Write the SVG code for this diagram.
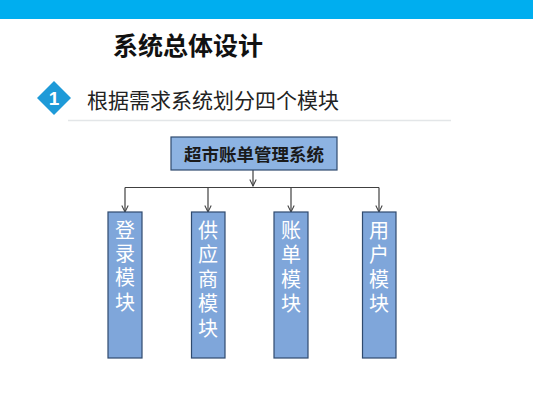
<svg xmlns="http://www.w3.org/2000/svg" width="533" height="400" viewBox="0 0 533 400">
<defs>
<marker id="arr" viewBox="0 0 10 10" refX="9" refY="5" markerWidth="8" markerHeight="8" markerUnits="userSpaceOnUse" orient="auto">
<path d="M1,1 L9,5 L1,9" fill="none" stroke="#404040" stroke-width="1.3"/>
</marker>
</defs>
<style>
.cn{font-family:"Noto Sans CJK SC","Noto Sans",sans-serif;}
.box{fill:#8DB3E2;stroke:#2F4A6E;stroke-width:1.2;}
.mod{fill:#7FA6DA;stroke:#2F4A6E;stroke-width:1.2;}
.mt{font-size:20px;fill:#ffffff;text-anchor:middle;}
.ln{fill:none;stroke:#404040;stroke-width:1.2;}
</style>
<rect width="533" height="400" fill="#ffffff"/>
<rect x="0" y="0" width="533" height="19" fill="#00AEEF"/>
<text class="cn" x="113" y="55" font-size="25" font-weight="bold" fill="#111">系统总体设计</text>
<g id="badge">
<polygon points="54,81 71,98 54,115 37,98" fill="#1E9AD8"/>
<text x="54" y="105" font-family="Liberation Sans,sans-serif" font-weight="bold" font-size="19" fill="#fff" text-anchor="middle">1</text>
</g>
<text class="cn" x="87" y="108" font-size="21" fill="#222">根据需求系统划分四个模块</text>
<line x1="68" y1="120.5" x2="451" y2="120.5" stroke="#E3E6E8" stroke-width="1.5"/>
<g id="connectors">
<line class="ln" x1="253" y1="170" x2="253" y2="186" marker-end="url(#arr)"/>
<polyline class="ln" points="125,187.5 379,187.5"/>
<line class="ln" x1="125" y1="187.5" x2="125" y2="212" marker-end="url(#arr)"/>
<line class="ln" x1="208" y1="187.5" x2="208" y2="212" marker-end="url(#arr)"/>
<line class="ln" x1="291" y1="187.5" x2="291" y2="212" marker-end="url(#arr)"/>
<line class="ln" x1="379" y1="187.5" x2="379" y2="212" marker-end="url(#arr)"/>
</g>
<g id="root">
<rect class="box" x="171" y="137" width="166" height="33"/>
<text class="cn" x="254" y="161" font-size="17.5" font-weight="bold" fill="#1a1a1a" text-anchor="middle">超市账单管理系统</text>
</g>
<g id="m1">
<rect class="mod" x="108" y="212" width="34" height="146"/>
<text class="cn mt"><tspan x="125" y="238">登</tspan><tspan x="125" y="261">录</tspan><tspan x="125" y="285">模</tspan><tspan x="125" y="310">块</tspan></text>
</g>
<g id="m2">
<rect class="mod" x="191.5" y="212" width="33.5" height="146"/>
<text class="cn mt"><tspan x="208" y="238">供</tspan><tspan x="208" y="262">应</tspan><tspan x="208" y="287">商</tspan><tspan x="208" y="311">模</tspan><tspan x="208" y="336">块</tspan></text>
</g>
<g id="m3">
<rect class="mod" x="274" y="212" width="34" height="146"/>
<text class="cn mt"><tspan x="291" y="238">账</tspan><tspan x="291" y="262">单</tspan><tspan x="291" y="287">模</tspan><tspan x="291" y="311">块</tspan></text>
</g>
<g id="m4">
<rect class="mod" x="362.5" y="212" width="33.5" height="146"/>
<text class="cn mt"><tspan x="379" y="238">用</tspan><tspan x="379" y="262">户</tspan><tspan x="379" y="287">模</tspan><tspan x="379" y="311">块</tspan></text>
</g>
</svg>
